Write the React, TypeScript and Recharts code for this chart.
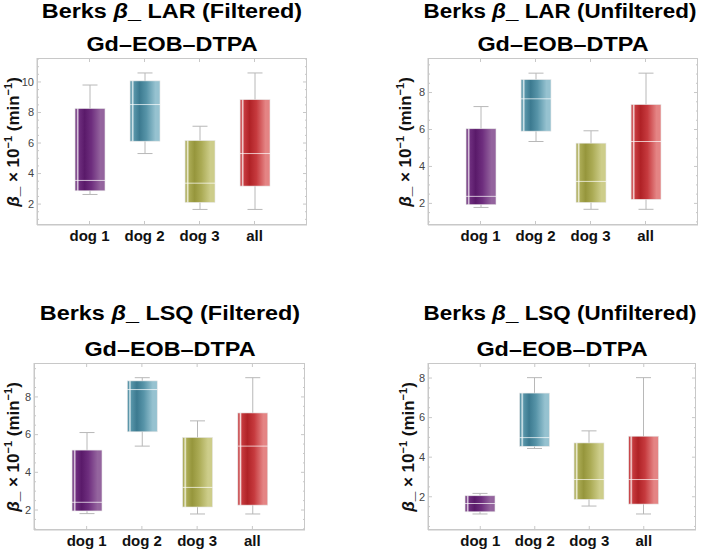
import { ComposedChart, Bar, XAxis, YAxis } from "recharts";

const categories = ["dog 1", "dog 2", "dog 3", "all"];

// [min, q1, median, q3, max] per category, in units of 10^-1 min^-1
const larFiltered = [
  [2.63, 2.87, 3.55, 8.26, 9.8],
  [5.31, 6.12, 8.52, 10.07, 10.59],
  [1.65, 2.11, 3.37, 6.16, 7.1],
  [1.65, 3.18, 5.31, 8.84, 10.59],
];
const larUnfiltered = [
  [1.78, 1.93, 2.38, 6.04, 7.24],
  [5.35, 5.91, 7.66, 8.7, 9.05],
  [1.68, 2.05, 3.19, 5.26, 5.93],
  [1.68, 2.22, 5.35, 7.35, 9.05],
];
const lsqFiltered = [
  [1.81, 1.95, 2.41, 5.18, 6.11],
  [5.39, 6.15, 8.39, 8.85, 9.02],
  [1.79, 2.16, 3.2, 5.85, 6.73],
  [1.79, 2.26, 5.39, 7.15, 9.02],
];
const lsqUnfiltered = [
  [1.13, 1.24, 1.66, 2.05, 2.17],
  [4.44, 4.55, 4.99, 7.24, 8.02],
  [1.53, 1.87, 2.87, 4.72, 5.33],
  [1.13, 1.63, 2.87, 5.06, 8.02],
];

const ticksTo10 = [2, 4, 6, 8, 10];
const ticksTo8 = [2, 4, 6, 8];

// glossy fills, one per category
const shades = [
  { edge: "#8e7096", glint: "#e4d6e6", dark: "#5a1a6a", mid: "#6e2e7e", light: "#94649e" },
  { edge: "#80aabb", glint: "#dcecf0", dark: "#3c7a90", mid: "#5794a8", light: "#96c2d0" },
  { edge: "#bcbc84", glint: "#f0f0da", dark: "#96963c", mid: "#abab55", light: "#cdcd8a" },
  { edge: "#d88c8c", glint: "#f6dede", dark: "#b02226", mid: "#c63a3e", light: "#e48484" },
];

const FONT = '"Liberation Sans", Arial, sans-serif';
const FRAME = "#c8c8c8";

type PanelProps = {
  id: string;
  title: string;
  stats: number[][];
  domain: [number, number];
  major: number[];
  left: number;
  top: number;
  width: number;
  height: number;
  frame: { x0: number; x1: number; y0: number; y1: number };
  labelX: number;
  titleBase: [number, number];
  titleCx?: number;
  titleScale?: number;
};

function minorTicks(lo: number, hi: number) {
  const out: number[] = [];
  for (let v = Math.ceil(lo * 2) / 2; v <= hi; v += 0.5) out.push(v);
  return out;
}

function Panel(p: PanelProps) {
  const data = categories.map((name, i) => {
    const [min, q1, med, q3, max] = p.stats[i];
    return { name, box: [q1, q3], min, q1, med, q3, max, idx: i };
  });
  const yAxisW = p.frame.x0 - p.left;
  const mTop = p.frame.y0 - p.top;
  const mRight = p.left + p.width - p.frame.x1;
  const xAxisH = p.top + p.height - p.frame.y1;
  const axL = yAxisW;
  const axR = p.frame.x1 - p.left;
  const axT = mTop;
  const axB = p.frame.y1 - p.top;
  const ticks = minorTicks(p.domain[0], p.domain[1]);
  const cx = (p.frame.x0 + p.frame.x1) / 2;
  const cy = (p.frame.y0 + p.frame.y1) / 2;

  const renderBox = (props: any) => {
    const { x, y, width, height } = props;
    const row = props.payload ?? data[props.index];
    const t = Math.min(y, y + height);
    const h = Math.abs(height);
    const ppu = h / (row.q3 - row.q1);
    const mid = x + width / 2;
    const wTop = t - (row.max - row.q3) * ppu;
    const wBot = t + h + (row.q1 - row.min) * ppu;
    const yMed = t + (row.q3 - row.med) * ppu;
    const cap = width / 4;
    return (
      <g>
        <line x1={mid} x2={mid} y1={wTop} y2={wBot} stroke="#b8b8b8" strokeWidth={1} />
        <line x1={mid - cap} x2={mid + cap} y1={wTop} y2={wTop} stroke="#b8b8b8" strokeWidth={1} />
        <line x1={mid - cap} x2={mid + cap} y1={wBot} y2={wBot} stroke="#b8b8b8" strokeWidth={1} />
        <rect x={x} y={t} width={width} height={h} fill={`url(#${p.id}-g${row.idx})`} stroke="#e6e6e6" strokeWidth={0.6} />
        <line x1={x} x2={x + width} y1={yMed} y2={yMed} stroke="#ffffff" strokeOpacity={0.7} strokeWidth={1} />
      </g>
    );
  };

  // left axis ticks, mirrored onto the right frame edge
  const yTick = (props: any) => {
    const v = props.payload.value;
    const isMajor = p.major.includes(v);
    const len = isMajor ? 4 : 2;
    return (
      <g>
        <line x1={axL} x2={axL + len} y1={props.y} y2={props.y} stroke={FRAME} />
        <line x1={axR} x2={axR - len} y1={props.y} y2={props.y} stroke={FRAME} />
        {isMajor && (
          <text x={axL - 3} y={props.y} dy={3.8} textAnchor="end" fontSize={11} fill="#444" fontFamily={FONT}>
            {v}
          </text>
        )}
      </g>
    );
  };

  // category ticks, mirrored onto the top frame edge
  const xTick = (props: any) => (
    <g>
      <line x1={props.x} x2={props.x} y1={axB} y2={axB - 4} stroke={FRAME} />
      <line x1={props.x} x2={props.x} y1={axT} y2={axT + 4} stroke={FRAME} />
      <text x={props.x} y={axB + 16} textAnchor="middle" fontSize={15} fontWeight="bold" fill="#111" fontFamily={FONT}>
        {props.payload.value}
      </text>
    </g>
  );

  const titleStyle = (base: number, scale: number, center: number): React.CSSProperties => ({
    position: "absolute",
    left: center - 200,
    top: base - 16.9,
    width: 400,
    textAlign: "center",
    fontFamily: FONT,
    fontWeight: "bold",
    fontSize: 20,
    lineHeight: "20px",
    whiteSpace: "nowrap",
    transform: `scaleX(${scale})`,
    color: "#000",
  });

  const sup: React.CSSProperties = { fontSize: 11, position: "relative", top: -7, lineHeight: 0 };

  return (
    <>
      <div style={titleStyle(p.titleBase[0], p.titleScale ?? 1.17, p.titleCx ?? cx)}>
        Berks <i>β</i>_ {p.title}
      </div>
      <div style={titleStyle(p.titleBase[1], 1.17, cx)}>Gd–EOB–DTPA</div>
      <div
        style={{
          position: "absolute",
          left: p.labelX - 90,
          top: cy - 10,
          width: 180,
          height: 20,
          lineHeight: "20px",
          textAlign: "center",
          transform: "rotate(-90deg)",
          fontFamily: FONT,
          fontWeight: "bold",
          fontSize: 17,
          whiteSpace: "nowrap",
          color: "#111",
        }}
      >
        <i>β</i>_ × 10<span style={sup}>−1</span> (min<span style={sup}>−1</span>)
      </div>
      <div style={{ position: "absolute", left: p.left, top: p.top }}>
        <ComposedChart
          width={p.width}
          height={p.height}
          data={data}
          margin={{ top: mTop, right: mRight, bottom: 0, left: 0 }}
        >
          <defs>
            {shades.map((s, i) => (
              <linearGradient key={i} id={`${p.id}-g${i}`} x1="0" y1="0" x2="1" y2="0">
                <stop offset="0" stopColor={s.edge} />
                <stop offset="0.04" stopColor={s.mid} />
                <stop offset="0.09" stopColor={s.glint} />
                <stop offset="0.14" stopColor={s.mid} />
                <stop offset="0.32" stopColor={s.dark} />
                <stop offset="0.55" stopColor={s.mid} />
                <stop offset="0.85" stopColor={s.light} />
                <stop offset="1" stopColor={s.light} />
              </linearGradient>
            ))}
          </defs>
          <XAxis
            dataKey="name"
            height={xAxisH}
            padding={{ left: 25, right: 25 }}
            interval={0}
            tickSize={0}
            tickMargin={0}
            tickLine={false}
            axisLine={{ stroke: FRAME }}
            tick={xTick}
          />
          <YAxis
            type="number"
            width={yAxisW}
            domain={p.domain}
            allowDataOverflow
            ticks={ticks}
            interval={0}
            tickSize={0}
            tickMargin={0}
            tickLine={false}
            axisLine={{ stroke: FRAME }}
            tick={yTick}
          />
          <Bar dataKey="box" barSize={30} isAnimationActive={false} shape={renderBox} />
        </ComposedChart>
      </div>
      {/* plot frame */}
      <div
        style={{
          position: "absolute",
          left: p.frame.x0,
          top: p.frame.y0,
          width: p.frame.x1 - p.frame.x0,
          height: p.frame.y1 - p.frame.y0,
          border: `1px solid ${FRAME}`,
          boxSizing: "border-box",
          pointerEvents: "none",
        }}
      />
    </>
  );
}

export default function App() {
  return (
    <div
      style={{
        position: "absolute",
        left: 0,
        top: 0,
        width: 702,
        height: 549,
        overflow: "hidden",
        background: "#fff",
      }}
    >
      <Panel
        id="p1"
        title="LAR (Filtered)"
        stats={larFiltered}
        domain={[0.63, 11.57]}
        major={ticksTo10}
        left={0}
        top={0}
        width={351}
        height={270}
        frame={{ x0: 37, x1: 307, y0: 58, y1: 225 }}
        labelX={13.5}
        titleBase={[18.3, 50.7]}
      />
      <Panel
        id="p2"
        title="LAR (Unfiltered)"
        stats={larUnfiltered}
        domain={[0.83, 9.87]}
        major={ticksTo8}
        left={351}
        top={0}
        width={351}
        height={270}
        frame={{ x0: 428, x1: 698, y0: 58, y1: 225 }}
        labelX={406}
        titleBase={[18.3, 50.7]}
        titleCx={560}
        titleScale={1.12}
      />
      <Panel
        id="p3"
        title="LSQ (Filtered)"
        stats={lsqFiltered}
        domain={[0.94, 9.8]}
        major={ticksTo8}
        left={0}
        top={270}
        width={351}
        height={279}
        frame={{ x0: 34, x1: 305, y0: 363, y1: 530 }}
        labelX={13.5}
        titleBase={[320, 356]}
      />
      <Panel
        id="p4"
        title="LSQ (Unfiltered)"
        stats={lsqUnfiltered}
        domain={[0.32, 8.76]}
        major={ticksTo8}
        left={351}
        top={270}
        width={351}
        height={279}
        frame={{ x0: 428, x1: 696, y0: 363, y1: 530 }}
        labelX={409}
        titleBase={[320, 356]}
        titleCx={560}
        titleScale={1.12}
      />
    </div>
  );
}
